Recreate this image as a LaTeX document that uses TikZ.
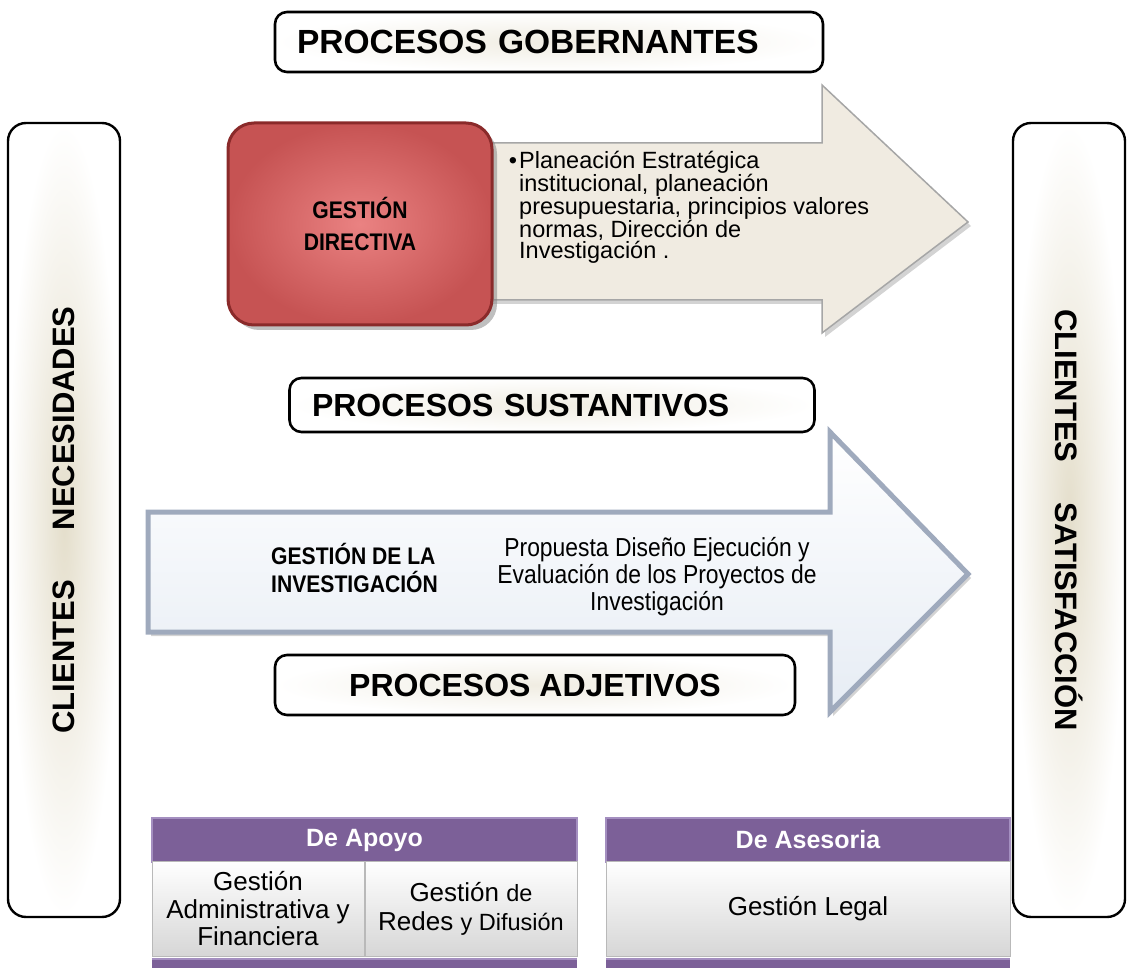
\documentclass[tikz,border=0pt]{standalone}
\usepackage{fontspec}
\setmainfont{Liberation Sans}
\newfontfamily\angosta[FakeStretch=0.88]{Liberation Sans}
\usetikzlibrary{shadows}
\definecolor{crema}{HTML}{E4DECB}
\definecolor{beige}{HTML}{F0EBE1}
\definecolor{rojoin}{HTML}{EA8282}
\definecolor{rojoout}{HTML}{C65353}
\definecolor{rojoborde}{HTML}{8A2A2A}
\definecolor{azulborde}{HTML}{9FAABD}
\definecolor{azulfondo}{HTML}{E6ECF4}
\definecolor{lila}{HTML}{7C6098}
\definecolor{lilaclaro}{HTML}{A48FC0}
\definecolor{gris}{HTML}{D6D6D6}

\begin{document}
\begin{tikzpicture}[x=1pt,y=-1pt,
  marco/.style={draw=black,line width=2.6pt,rounded corners=12pt,inner color=crema!55,outer color=white,inner sep=0pt},
  lado/.style={draw=black,line width=2.4pt,rounded corners=18pt,inner color=crema,outer color=white,
    minimum width=794pt,minimum height=112pt,font=\bfseries\fontsize{31}{36}\selectfont},
  cabeza/.style={draw=lilaclaro,line width=1.5pt,fill=lila,text=white,font=\bfseries\fontsize{25}{28}\selectfont},
  celda/.style={draw=gray!55,line width=.8pt,top color=white,bottom color=gris,align=center,
    font=\fontsize{26}{27.5}\selectfont}]
\useasboundingbox (0,0) rectangle (1133,968);

% procesos
\node[marco,minimum width=548pt,minimum height=60pt,text width=504pt,align=left,
  font=\bfseries\fontsize{33.5}{40}\selectfont] (gob) at (549,42) {PROCESOS GOBERNANTES};
\node[marco,minimum width=525pt,minimum height=54pt,text width=480pt,align=left,
  font=\bfseries\fontsize{32}{38}\selectfont] (sus) at (552,405) {PROCESOS SUSTANTIVOS};
\node[marco,minimum width=520pt,minimum height=60pt,font=\bfseries\fontsize{32}{38}\selectfont] (adj) at (535,685) {PROCESOS ADJETIVOS};

% clientes
\node[lado,rotate=90] (necesidades) at (64,520) {CLIENTES\hspace{50pt}NECESIDADES};
\node[lado,rotate=-90] (satisfaccion) at (1069,520) {CLIENTES\hspace{40pt}SATISFACCIÓN};

% flecha gobernante
\draw[draw=gray!70,line width=1.5pt,fill=beige,drop shadow={opacity=.35,shadow xshift=3pt,shadow yshift=-4pt}]
  (470,143) -- (822,143) -- (822,85) -- (968,222) -- (822,333) -- (822,300) -- (470,300) -- cycle;
\node[draw=rojoborde,line width=3pt,rounded corners=26pt,inner color=rojoin,outer color=rojoout,
  minimum width=264pt,minimum height=202pt,align=center,font=\angosta\bfseries\fontsize{24}{32}\selectfont,
  drop shadow={opacity=.5,shadow xshift=5pt,shadow yshift=-5pt}] (directiva) at (360,224) {GESTIÓN\\DIRECTIVA};
\node[anchor=base west,inner sep=0pt,align=left,font=\fontsize{23.5}{21.5}\selectfont] (planeacion) at (519,259)
  {\llap{\textbullet\hspace{2pt}}Planeación Estratégica\\institucional, planeación\\presupuestaria, principios valores\\normas, Dirección de\\Investigación .};

% flecha sustantiva
\draw[draw=azulborde,line width=5pt,top color=white,bottom color=azulfondo,drop shadow={opacity=.35,shadow xshift=3pt,shadow yshift=-4pt}]
  (148,512) -- (830,512) -- (830,432) -- (968,574) -- (830,712) -- (830,632) -- (148,632) -- cycle;
\node[anchor=base west,align=left,inner sep=0pt,font=\angosta\bfseries\fontsize{24}{28}\selectfont] (investigacion) at (271,592) {GESTIÓN DE LA\\INVESTIGACIÓN};
\node[anchor=base,align=center,inner sep=0pt,font=\angosta\fontsize{26}{27}\selectfont] (propuesta) at (657,610) {Propuesta Diseño Ejecución y\\Evaluación de los Proyectos de\\Investigación};

% de apoyo
\node[cabeza,minimum width=425pt,minimum height=44pt] (apoyo) at (364.5,840) {De Apoyo};
\node[celda,minimum width=212pt,minimum height=95pt] (admin) at (258,909) {Gestión\\Administrativa y\\Financiera};
\node[celda,minimum width=212pt,minimum height=95pt,font=\fontsize{26}{29}\selectfont] (redes) at (471,909)
  {Gestión {\fontsize{23.5}{28}\selectfont de}\\Redes {\fontsize{23.5}{28}\selectfont y Difusión}};
\fill[lila] (152,958) rectangle (577,968);
\draw[lilaclaro,line width=1.5pt] (152,959) -- (577,959);

% de asesoria
\node[cabeza,minimum width=404pt,minimum height=44pt] (asesoria) at (808,840) {De Asesoria};
\node[celda,minimum width=404pt,minimum height=95pt] (legal) at (808,909) {Gestión Legal};
\fill[lila] (606,958) rectangle (1010,968);
\draw[lilaclaro,line width=1.5pt] (606,959) -- (1010,959);
\end{tikzpicture}
\end{document}
